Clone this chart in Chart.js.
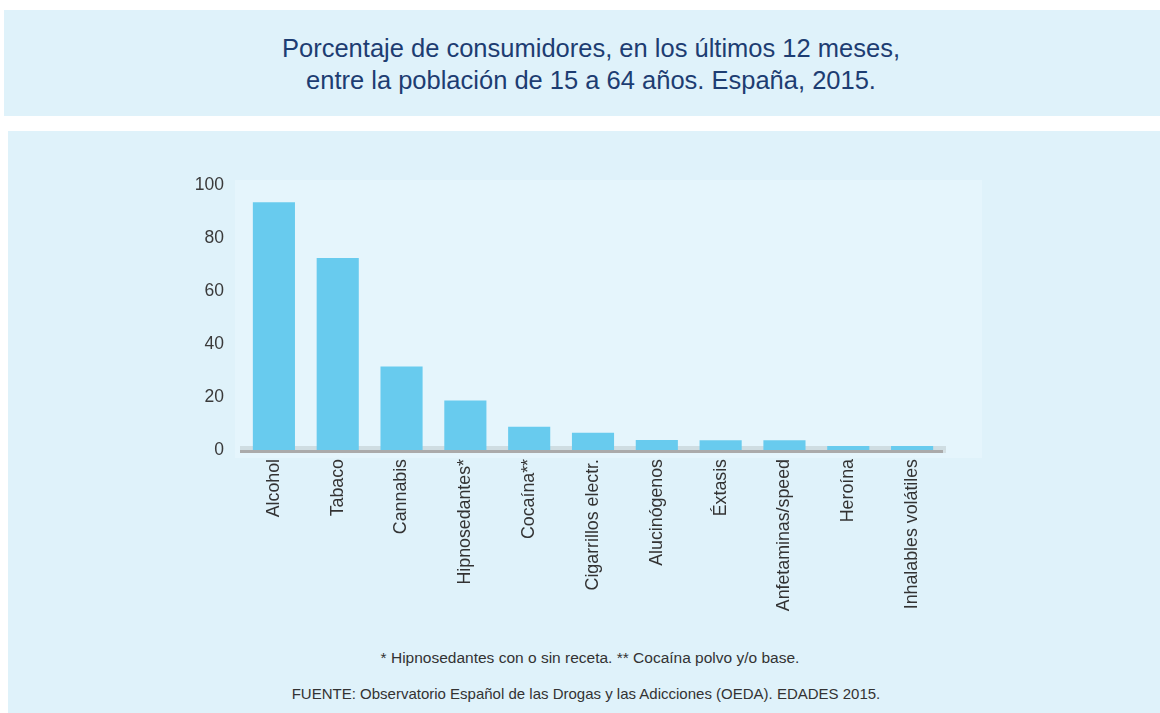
<!DOCTYPE html>
<html>
<head>
<meta charset="utf-8">
<script src="https://cdn.jsdelivr.net/npm/chart.js@4"></script>
<style>
  html, body { margin:0; padding:0; background:#ffffff; width:1160px; height:713px; overflow:hidden; font-family:"Liberation Sans", Arial, sans-serif; }
  .box1 { position:absolute; left:4px; top:10px; width:1156px; height:106px; background:#dff2fa; }
  .box2 { position:absolute; left:8px; top:131px; width:1152px; height:582px; background:#dff2fa; }
  .title { position:absolute; left:11px; top:32px; width:1160px; text-align:center; color:#1d3d72; font-size:25.5px; line-height:32px; }
  .note { position:absolute; width:1160px; text-align:center; color:#333; }
  canvas { position:absolute; left:0; top:0; }
</style>
</head>
<body>
<div class="box1"></div>
<div class="box2"></div>
<div class="title">Porcentaje de consumidores, en los últimos 12 meses,<br>entre la población de 15 a 64 años. España, 2015.</div>
<div class="note" style="top:649px; left:10px; font-size:15.5px">* Hipnosedantes con o sin receta. ** Cocaína polvo y/o base.</div>
<div class="note" style="top:685px; left:6px; font-size:15px">FUENTE: Observatorio Español de las Drogas y las Adicciones (OEDA). EDADES 2015.</div>
<canvas id="c" width="1160" height="713"></canvas>
<script>
const categories = ["Alcohol","Tabaco","Cannabis","Hipnosedantes*","Cocaína**","Cigarrillos electr.","Alucinógenos","Éxtasis","Anfetaminas/speed","Heroína","Inhalables volátiles"];
const values = [93.5, 72.5, 31.5, 18.7, 8.8, 6.5, 3.8, 3.7, 3.7, 1.5, 1.5];
const yTicks = [0, 20, 40, 60, 80, 100];

const decor = {
  id: 'decor',
  beforeDraw(chart) {
    const {ctx, chartArea:a} = chart;
    ctx.save();
    ctx.fillStyle = '#e5f5fc';
    ctx.fillRect(a.left - 7, a.top - 5, a.right - a.left + 45, a.bottom - a.top + 13);
    ctx.restore();
  },
  beforeDatasetsDraw(chart) {
    const {ctx, chartArea:a} = chart;
    ctx.save();
    ctx.fillStyle = '#cfdde2';
    ctx.fillRect(a.left - 2, a.bottom - 4, a.right - a.left + 4, 4);
    ctx.restore();
  },
  afterDatasetsDraw(chart) {
    const {ctx, chartArea:a} = chart;
    ctx.save();
    ctx.fillStyle = '#aaaaaa';
    ctx.fillRect(a.left - 2, a.bottom, a.right - a.left + 1, 3);
    ctx.fillStyle = '#d4e0e4';
    ctx.fillRect(a.right - 1, a.bottom, 3, 3);
    ctx.restore();
  }
};

new Chart(document.getElementById('c'), {
  type: 'bar',
  data: {
    labels: categories,
    datasets: [{ data: values, backgroundColor: '#68cbee', borderWidth: 0, barPercentage: 0.66, categoryPercentage: 1.0 }]
  },
  options: {
    responsive: false,
    animation: false,
    layout: { padding: { left: 182, top: 185, right: 216, bottom: 93 } },
    plugins: { legend: { display: false }, tooltip: { enabled: false } },
    scales: {
      x: {
        grid: { display: false, drawTicks: false },
        border: { display: false },
        ticks: { color: '#333', font: { family: 'Liberation Sans', size: 17.8 }, minRotation: 90, maxRotation: 90, padding: 9, autoSkip: false },
        afterFit(s) { s.height = 170; }
      },
      y: {
        min: 0, max: 100,
        afterBuildTicks(s) { s.ticks = yTicks.map(v => ({ value: v })); },
        grid: { display: false, drawTicks: false },
        border: { display: false },
        ticks: { color: '#3a3a3a', font: { family: 'Liberation Sans', size: 17.5 }, padding: 18 },
        afterFit(s) { s.width = 60; }
      }
    }
  },
  plugins: [decor]
});
</script>
</body>
</html>
